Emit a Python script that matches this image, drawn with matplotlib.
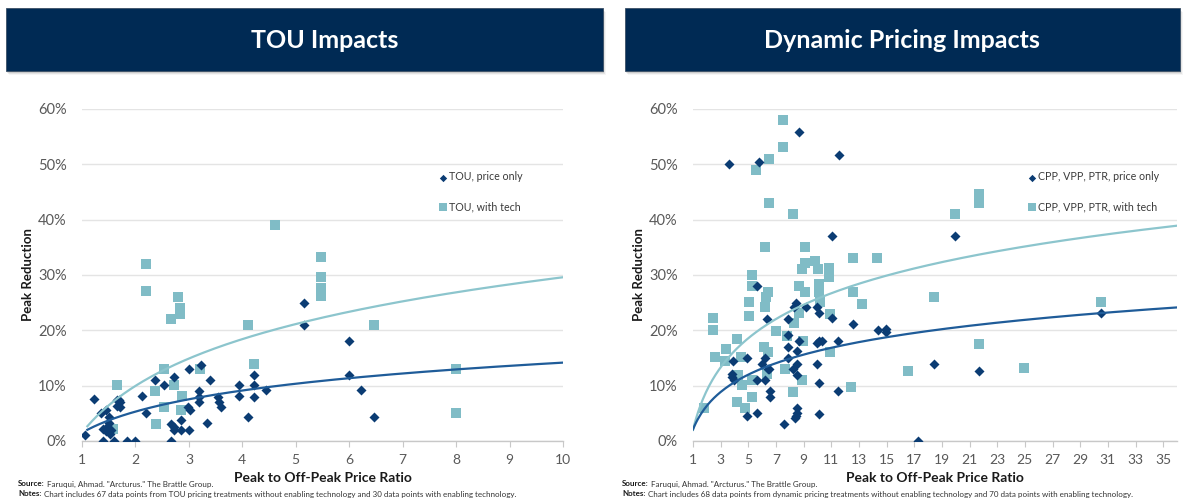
import numpy as np
import matplotlib
matplotlib.use("Agg")
import matplotlib.pyplot as plt
from matplotlib.patches import Rectangle
from matplotlib.ticker import FuncFormatter

plt.rcParams["font.family"] = ["Lato", "DejaVu Sans"]

# ---------------- data: TOU pricing ----------------
tou_price_x = [1.06, 1.23, 1.36, 1.39, 1.39, 1.45, 1.50, 1.50, 1.47, 1.45, 1.52, 1.55, 1.60, 1.84,
               1.99, 1.66, 1.70, 1.72, 1.66, 1.72, 2.12, 2.19, 2.37, 2.53, 2.72, 2.67, 2.67, 2.73,
               2.85, 2.72, 2.86, 3.00, 3.01, 2.99, 3.02, 3.19, 3.19, 3.19, 3.23, 3.33, 3.40, 3.55,
               3.57, 3.60, 3.94, 3.94, 4.11, 4.22, 4.22, 4.22, 4.44, 5.16, 5.16, 5.99, 5.99, 6.22,
               6.46]
tou_price_y = [1.1, 7.6, 5.0, 2.1, 0.0, 5.6, 4.4, 3.3, 2.6, 1.8, 1.2, 2.0, 0.0, 0.0,
               0.0, 7.5, 7.5, 7.0, 6.4, 6.2, 8.1, 5.1, 11.0, 10.1, 11.6, 3.0, 0.0, 2.6,
               3.8, 2.0, 2.0, 2.0, 13.0, 6.1, 5.6, 9.1, 7.9, 7.0, 13.7, 3.2, 11.0, 7.9,
               7.0, 6.1, 10.1, 8.1, 4.3, 12.0, 10.1, 8.0, 9.3, 25.0, 21.0, 18.0, 12.0, 9.3,
               4.3]

tou_tech_x = [2.19, 2.19, 2.79, 2.83, 2.83, 2.66, 2.53, 3.20, 1.66, 2.37, 2.73, 2.88, 2.53,
              2.85, 2.38, 1.58, 4.11, 4.22, 5.48, 5.48, 5.48, 5.48, 6.46, 4.62, 7.99, 7.99]
tou_tech_y = [32.0, 27.1, 26.0, 24.0, 23.0, 22.0, 13.0, 13.0, 10.1, 9.0, 10.1, 8.1, 6.1,
              5.6, 3.1, 2.1, 21.0, 14.0, 33.2, 29.6, 27.6, 26.2, 21.0, 39.0, 13.0, 5.0]

# logarithmic trendlines (intercept, slope on ln x), in percent
tou_trend_price = (1.5, 5.5)
tou_trend_tech = (1.5, 12.2)

# ---------------- data: dynamic pricing ----------------
dyn_price_x = [3.63, 5.77, 8.63, 11.55, 11.07, 19.96,
               5.63, 6.32, 7.84, 7.88, 8.43, 8.30, 9.15, 9.94, 10.10, 11.04,
               3.92, 3.80, 3.80, 4.00, 4.94, 5.63, 6.20, 5.99, 6.20, 6.40, 6.50, 6.60, 6.60,
               4.93, 5.60, 7.59, 8.35, 8.50, 8.55, 8.45, 7.84, 7.84, 8.54, 8.54, 8.26, 8.54,
               9.94, 10.10, 10.30, 9.94, 10.10, 10.10, 8.65,
               11.49, 11.49, 12.60, 14.35, 14.96, 14.96, 18.42, 17.30, 21.70, 30.50]
dyn_price_y = [50.0, 50.5, 55.9, 51.6, 37.0, 37.0,
               28.0, 22.0, 19.1, 22.0, 25.0, 24.2, 24.2, 24.2, 23.1, 22.3,
               14.5, 12.1, 11.5, 11.0, 15.0, 11.0, 11.0, 14.0, 15.0, 13.0, 13.0, 9.0, 8.0,
               4.5, 5.0, 3.0, 4.2, 5.0, 6.0, 4.5, 15.0, 17.0, 16.2, 14.0, 13.0, 12.0,
               17.7, 18.0, 18.0, 14.0, 10.5, 4.8, 18.1,
               9.1, 18.1, 21.1, 20.1, 20.3, 19.7, 14.0, 0.0, 12.6, 23.2]

dyn_tech_x = [7.52, 7.52, 6.49, 5.58, 6.49, 8.24, 6.22, 9.10, 9.10, 8.86, 5.27, 9.80, 10.04,
              10.83, 10.83, 12.55, 14.28,
              5.27, 2.48, 2.48, 2.60, 3.40, 3.32, 4.17, 4.24, 4.57, 4.17, 4.76, 4.44, 5.07,
              5.07, 5.27, 5.24, 6.27, 6.44, 6.20, 6.13, 6.44, 6.35, 6.99, 7.64, 7.81, 8.24,
              8.29, 8.67, 8.67, 8.96, 9.10, 8.91,
              12.60, 13.24, 12.45, 10.94, 10.94, 18.42, 21.70, 16.55, 24.90, 30.50, 19.96,
              21.70, 21.70, 10.10, 10.10, 10.20, 1.81]
dyn_tech_y = [58.0, 53.1, 51.0, 49.0, 43.0, 41.0, 35.0, 35.0, 32.1, 31.0, 30.0, 32.6, 31.0,
              31.3, 29.7, 33.0, 33.0,
              28.0, 22.2, 20.0, 15.1, 16.6, 14.5, 18.4, 12.0, 10.1, 7.1, 5.9, 15.1, 25.2,
              22.6, 11.0, 8.0, 26.1, 27.0, 24.2, 16.9, 16.1, 12.1, 19.9, 13.0, 19.0, 8.8,
              21.4, 28.0, 23.1, 18.1, 27.0, 11.0,
              27.0, 24.7, 9.7, 23.0, 16.1, 26.0, 17.5, 12.7, 13.2, 25.2, 41.0,
              44.6, 43.0, 28.4, 27.0, 25.1, 6.0]

dyn_trend_price = (2.1, 6.15)
dyn_trend_tech = (2.0, 10.3)

tou_ticks = list(range(1, 11))
dyn_ticks = list(range(1, 36, 2))
pct_ticks = [0, 10, 20, 30, 40, 50, 60]

NAVY = "#002a54"
DARK = "#0b3c73"
DARK_LINE = "#1f5c99"
LIGHT = "#80bcc6"
LIGHT_LINE = "#8cc5cd"
GRID = "#e4e4e4"
TICK_TXT = "#595959"

W, H = 1186, 501
fig = plt.figure(figsize=(W / 100, H / 100), dpi=100)


def fx(px):
    return px / W


def fy(py):
    return 1 - py / H


def header(x0, x1, y0, y1, title, tx):
    # soft drop shadow under the banner
    for i, a in enumerate([0.10, 0.07, 0.04]):
        d = i + 1
        fig.patches.append(Rectangle((fx(x0 + d), fy(y1 + d + 1)), fx(x1 - x0), (y1 - y0) / H,
                                     transform=fig.transFigure, facecolor="black",
                                     alpha=a, edgecolor="none", zorder=0))
    fig.patches.append(Rectangle((fx(x0), fy(y1)), fx(x1 - x0), (y1 - y0) / H,
                                 transform=fig.transFigure, facecolor=NAVY,
                                 edgecolor="#3a4f66", linewidth=0.6, zorder=1))
    fig.text(fx(tx), fy((y0 + y1) / 2 + 1), title, color="white",
             fontsize=18, fontweight="bold", ha="center", va="center", zorder=2)


header(6, 603, 8, 71, "TOU Impacts", 325)
header(625, 1180, 8, 71, "Dynamic Pricing Impacts", 902)


def panel(rect, xlim, xticks, px, py, tx, ty, trends, labels, legend_anchor, curve_start):
    ax = fig.add_axes(rect)
    ax.set_xlim(*xlim)
    ax.set_ylim(0, 60)
    ax.set_yticks(pct_ticks)
    ax.yaxis.set_major_formatter(FuncFormatter(lambda v, _: f"{v:.0f}%"))
    ax.set_xticks(xticks)
    ax.grid(axis="y", color=GRID, linewidth=1.0)
    ax.set_axisbelow(True)
    for s in ("top", "right", "left"):
        ax.spines[s].set_visible(False)
    ax.spines["bottom"].set_color("#c8c8c8")
    ax.spines["bottom"].set_linewidth(1.0)
    ax.tick_params(axis="y", length=0, labelsize=10.5, labelcolor=TICK_TXT, pad=11)
    ax.tick_params(axis="x", length=4, color="#c8c8c8", labelsize=10, labelcolor=TICK_TXT, pad=5)

    xs = np.linspace(curve_start, xlim[1], 300)
    (a1, b1), (a2, b2) = trends

    ax.scatter(tx, ty, marker="s", s=48, color=LIGHT, linewidths=0, zorder=3, label=labels[1])
    ax.scatter(px, py, marker="D", s=26, color=DARK, linewidths=0, zorder=4, label=labels[0])
    ax.plot(xs, a2 + b2 * np.log(xs), color=LIGHT_LINE, linewidth=1.6, zorder=5)
    ax.plot(xs, a1 + b1 * np.log(xs), color=DARK_LINE, linewidth=1.6, zorder=6)

    h, l = ax.get_legend_handles_labels()
    leg = ax.legend(h[::-1], l[::-1], loc="upper left", bbox_to_anchor=legend_anchor,
                    frameon=False, fontsize=7.7, labelspacing=1.75, handletextpad=0.05,
                    handlelength=1.0, borderaxespad=0)
    leg.legend_handles[0].set_sizes([14])
    leg.legend_handles[1].set_sizes([26])
    for t in leg.get_texts():
        t.set_color("#3a3a3a")

    ax.set_ylabel("Peak Reduction", fontsize=9.5, fontweight="bold", color="#1a1a1a", labelpad=3)
    ax.set_xlabel("Peak to Off-Peak Price Ratio", fontsize=10, fontweight="bold",
                  color="#1a1a1a", labelpad=5)
    return ax


ax1 = panel([fx(82), fy(441), fx(563 - 82), (441 - 109) / H], (1, 10), tou_ticks,
            tou_price_x, tou_price_y, tou_tech_x, tou_tech_y,
            (tou_trend_price, tou_trend_tech),
            ["TOU, price only", "TOU, with tech"], (0.73, 0.825), 1.1)
ax2 = panel([fx(693), fy(441), fx(1177 - 693), (441 - 109) / H], (1, 36), dyn_ticks,
            dyn_price_x, dyn_price_y, dyn_tech_x, dyn_tech_y,
            (dyn_trend_price, dyn_trend_tech),
            ["CPP, VPP, PTR, price only", "CPP, VPP, PTR, with tech"], (0.68, 0.825), 1.0)


def footnote(x, y, head, body):
    t = fig.text(fx(x), fy(y), head, fontsize=5.8, fontweight="bold", color="#1a1a1a",
                 ha="left", va="center")
    fig.canvas.draw()
    bb = t.get_window_extent()
    fig.text(bb.x1 / W + 0.002, fy(y), body, fontsize=5.8, color="#333333",
             ha="left", va="center")


footnote(18, 484, "Source:", "Faruqui, Ahmad. \"Arcturus.\" The Brattle Group.")
footnote(18, 494, "Notes:", "Chart includes 67 data points from TOU pricing treatments without "
         "enabling technology and 30 data points with enabling technology.")
footnote(622, 484, "Source:", "Faruqui, Ahmad. \"Arcturus.\" The Brattle Group.")
footnote(622, 494, "Notes:", "Chart includes 68 data points from dynamic pricing treatments "
         "without enabling technology and 70 data points with enabling technology.")

fig.savefig("out.png", dpi=100, facecolor="white")
